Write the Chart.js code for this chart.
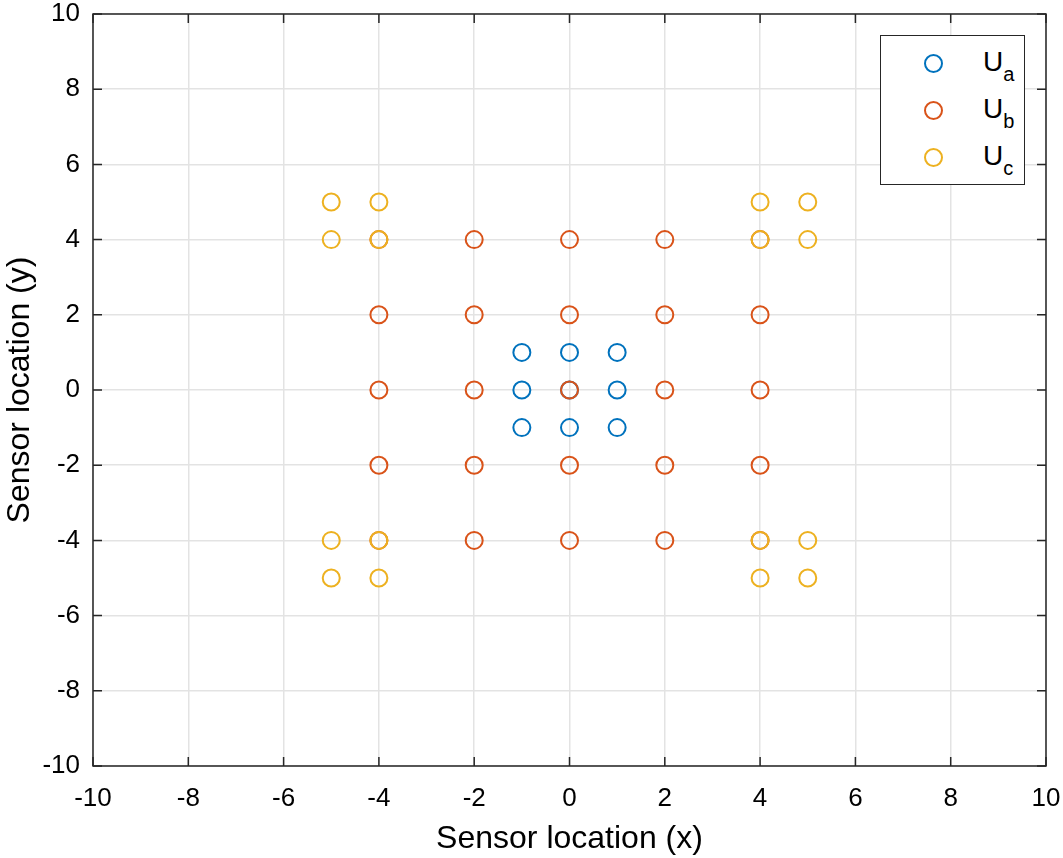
<!DOCTYPE html>
<html>
<head>
<meta charset="utf-8">
<script src="https://cdn.jsdelivr.net/npm/chart.js@4/dist/chart.umd.min.js"></script>
<style>
  html, body { margin: 0; padding: 0; background: #fff; }
  #wrap { position: relative; width: 1063px; height: 858px; }
  #legend {
    position: absolute; left: 880px; top: 35px; width: 143px; height: 148px;
    border: 1.5px solid #262626; background: #fff;
    font-family: 'Liberation Sans', Arial, sans-serif; font-size: 28px; color: #000;
  }
  .item { position: absolute; left: 0; height: 32px; width: 100%; }
  .mk { position: absolute; left: 43px; top: 7px; width: 15px; height: 15px; border-radius: 50%; border: 2px solid; }
  .lb { position: absolute; left: 102px; top: 0px; line-height: 30px; }
  .lb sub { font-size: 20px; vertical-align: -10px; line-height: 0; }
</style>
</head>
<body>
<div id="wrap">
  <canvas id="c" width="1063" height="858"></canvas>
  <div id="legend"></div>
</div>
<script>
// series names and colours
const seriesNames = ['U', 'U', 'U'];
const seriesSubs = ['a', 'b', 'c'];
const seriesColors = ['#0072BD', '#D95319', '#EDB120'];

// sensor positions
const uaX = [-1, 0, 1, -1, 0, 1, -1, 0, 1];
const uaY = [1, 1, 1, 0, 0, 0, -1, -1, -1];

const ubX = [-4, -2, 0, 2, 4, -4, -2, 0, 2, 4, -4, -2, 0, 2, 4, -4, -2, 0, 2, 4, -4, -2, 0, 2, 4];
const ubY = [4, 4, 4, 4, 4, 2, 2, 2, 2, 2, 0, 0, 0, 0, 0, -2, -2, -2, -2, -2, -4, -4, -4, -4, -4];

const ucX = [-5, -4, -5, -4, 4, 5, 4, 5, -5, -4, -5, -4, 4, 5, 4, 5];
const ucY = [5, 5, 4, 4, 5, 5, 4, 4, -4, -4, -5, -5, -4, -4, -5, -5];

const tickVals = [-10, -8, -6, -4, -2, 0, 2, 4, 6, 8, 10];

const toPts = (xs, ys) => xs.map((x, i) => ({ x, y: ys[i] }));
const allPts = [toPts(uaX, uaY), toPts(ubX, ubY), toPts(ucX, ucY)];

const font = "'Liberation Sans', Arial, sans-serif";

const boxPlugin = {
  id: 'box',
  afterDraw(chart) {
    const { ctx, chartArea: a, scales } = chart;
    ctx.save();
    ctx.strokeStyle = '#262626';
    ctx.lineWidth = 1.5;
    ctx.strokeRect(a.left, a.top, a.right - a.left, a.bottom - a.top);
    // inward tick marks
    ctx.beginPath();
    tickVals.forEach(v => {
      const px = scales.x.getPixelForValue(v);
      ctx.moveTo(px, a.bottom); ctx.lineTo(px, a.bottom - 9);
      ctx.moveTo(px, a.top); ctx.lineTo(px, a.top + 9);
      const py = scales.y.getPixelForValue(v);
      ctx.moveTo(a.left, py); ctx.lineTo(a.left + 9, py);
      ctx.moveTo(a.right, py); ctx.lineTo(a.right - 9, py);
    });
    ctx.stroke();
    ctx.restore();
  }
};

const axis = (title, isY) => ({
  type: 'linear', min: -10, max: 10,
  afterBuildTicks: s => { s.ticks = tickVals.map(v => ({ value: v })); },
  afterFit: s => {
    if (isY) { s.width = 93; s.paddingTop = 0; s.paddingBottom = 0; }
    else { s.height = 92; s.paddingLeft = 0; s.paddingRight = 0; }
  },
  grid: { color: '#e3e3e3', lineWidth: 1.5, drawTicks: false },
  border: { display: false },
  ticks: { color: '#000', font: { family: font, size: 26 }, padding: isY ? 13 : 17, maxRotation: 0 },
  title: { display: true, text: title, color: '#000', font: { family: font, size: 32 }, padding: isY ? { top: 1 } : 0 }
});

new Chart(document.getElementById('c'), {
  type: 'scatter',
  data: {
    datasets: allPts.map((pts, i) => ({
      label: seriesNames[i] + seriesSubs[i],
      data: pts,
      order: 3 - i,
      pointStyle: 'circle',
      pointRadius: 8.5,
      pointHoverRadius: 8.5,
      borderWidth: 2,
      borderColor: seriesColors[i],
      backgroundColor: 'rgba(0,0,0,0)'
    }))
  },
  options: {
    responsive: false,
    animation: false,
    layout: { padding: { top: 14, right: 17, left: 0, bottom: 0 } },
    plugins: { legend: { display: false }, tooltip: { enabled: false } },
    scales: { x: axis('Sensor location (x)', false), y: axis('Sensor location (y)', true) }
  },
  plugins: [boxPlugin]
});

// legend with subscripts
const lg = document.getElementById('legend');
seriesNames.forEach((n, i) => {
  const it = document.createElement('div');
  it.className = 'item';
  it.style.top = (11 + i * 47) + 'px';
  it.innerHTML = '<span class="mk" style="border-color:' + seriesColors[i] + '"></span>' +
    '<span class="lb">' + n + '<sub>' + seriesSubs[i] + '</sub></span>';
  lg.appendChild(it);
});
</script>
</body>
</html>
